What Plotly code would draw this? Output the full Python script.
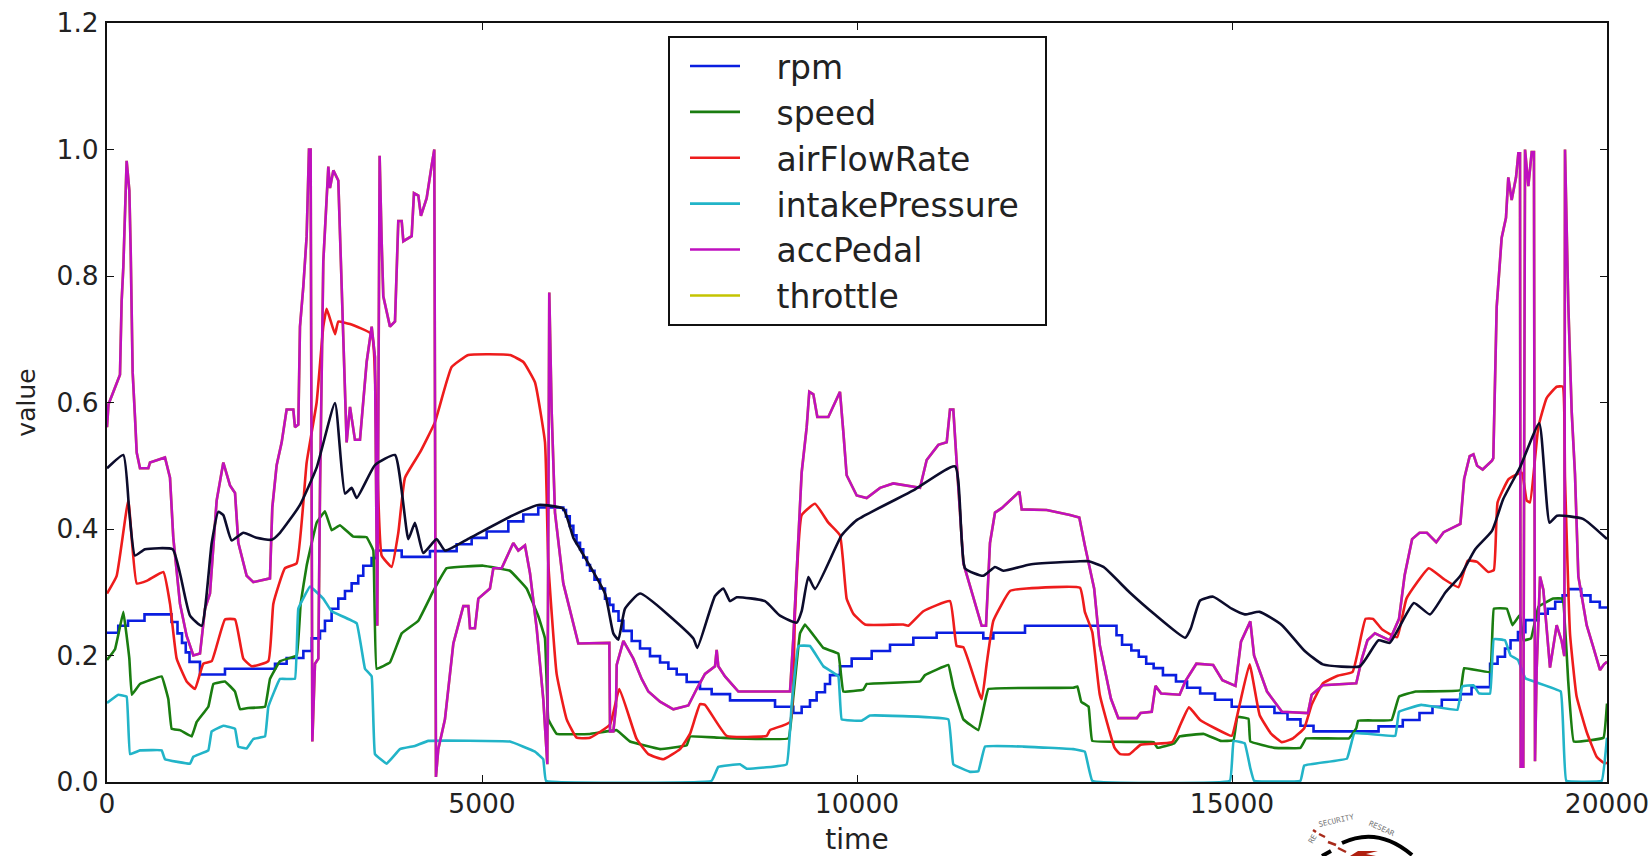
import plotly.graph_objects as go

rpm_x = [0,150,280,500,860,940,1000,1050,1100,1240,1573,2240,2395,2618,2730,2840,2906,2995,3084,3173,3262,3350,3417,3528,3595,3929,4306,4662,4862,5062,5351,5551,5750,6084,6120,6170,6218,6260,6307,6350,6400,6440,6500,6574,6640,6700,6751,6820,6885,6996,7107,7240,7374,7485,7596,7729,7907,8062,8307,8907,9151,9262,9373,9462,9573,9640,9773,9929,10196,10440,10751,11062,11684,11818,12240,13311,13460,13534,13658,13757,13856,13955,14079,14253,14401,14575,14773,14996,15566,15740,15913,16087,16954,17277,17500,17673,17797,18045,18194,18441,18541,18640,18714,18813,18912,19086,19210,19309,19408,19483,19656,19780,19904,20000]
rpm_y = [.236,.247,.255,.265,.253,.235,.22,.205,.19,.17,.179,.187,.196,.207,.227,.239,.255,.274,.29,.302,.314,.326,.342,.354,.366,.356,.365,.376,.386,.396,.412,.423,.434,.43,.42,.405,.39,.378,.368,.355,.343,.334,.32,.306,.29,.28,.27,.255,.239,.223,.211,.199,.189,.179,.17,.158,.147,.139,.129,.119,.109,.119,.129,.142,.155,.169,.183,.195,.207,.217,.228,.236,.227,.236,.247,.247,.232,.217,.208,.198,.187,.18,.169,.159,.149,.14,.13,.119,.109,.099,.089,.08,.088,.098,.109,.119,.13,.139,.15,.187,.198,.211,.224,.237,.256,.266,.274,.285,.295,.305,.295,.285,.276,.276]

speed_x = [0,107,218,298,330,440,729,818,862,973,1129,1196,1351,1418,1573,1707,1773,1884,2107,2173,2306,2529,2582,2662,2795,2906,2995,3106,3284,3462,3551,3595,3773,3929,4151,4351,4529,5018,5373,5595,5751,5840,5884,5995,6440,6796,6974,7374,7729,7773,8173,9085,9151,9240,9307,9551,9751,9818,10084,10129,10840,10907,11218,11284,11418,11618,11707,11751,12884,12939,12989,13088,13137,13955,14005,14228,14302,14625,14848,15021,15071,15220,15244,15566,15913,15988,16558,16657,16682,17128,17227,17450,18045,18095,18441,18491,18665,18739,18838,18888,18987,19086,19284,19408,19483,19557,19953,20000]
speed_y = [.193,.21,.269,.195,.138,.155,.167,.131,.084,.082,.072,.095,.119,.155,.159,.143,.115,.117,.119,.163,.191,.2,.282,.342,.41,.428,.398,.406,.388,.387,.366,.179,.189,.235,.255,.302,.338,.342,.334,.306,.262,.227,.099,.076,.076,.082,.064,.052,.058,.072,.07,.069,.135,.235,.249,.212,.203,.143,.146,.155,.159,.169,.185,.15,.099,.082,.127,.147,.149,.151,.127,.119,.065,.063,.054,.061,.072,.076,.065,.066,.103,.1,.064,.054,.054,.069,.069,.085,.097,.098,.135,.143,.145,.18,.174,.274,.274,.248,.264,.224,.227,.277,.29,.29,.159,.064,.07,.124]

airFlowRate_x = [0,129,284,396,529,751,840,929,1062,1173,1284,1396,1573,1707,1818,1929,2151,2218,2373,2529,2662,2795,2884,2929,3040,3084,3240,3529,3595,3662,3795,3884,3973,4173,4373,4595,4818,5373,5551,5706,5840,5884,5995,6129,6262,6440,6707,6831,7062,7218,7418,7640,7773,7907,7973,8262,8796,8840,9107,9173,9262,9440,9618,9773,9862,9951,10107,10618,10684,10884,11240,11329,11418,11662,11729,11818,12040,12262,12973,13038,13137,13237,13435,13509,13633,13782,14203,14302,14426,14575,14773,14996,15071,15234,15368,15517,15666,15814,15963,16062,16211,16409,16607,16781,16880,17004,17202,17326,17624,17822,18020,18144,18268,18417,18491,18541,18690,18863,18929,18973,19084,19195,19329,19409,19440,19507,19595,19729,19862,19960,20000]
airFlowRate_y = [.298,.326,.445,.314,.318,.332,.282,.195,.159,.147,.187,.191,.257,.257,.195,.183,.191,.282,.338,.346,.505,.6,.72,.748,.708,.728,.724,.708,.537,.358,.34,.394,.481,.521,.569,.656,.675,.675,.664,.632,.537,.346,.171,.099,.07,.07,.091,.147,.068,.044,.036,.052,.076,.123,.122,.073,.073,.082,.095,.266,.422,.44,.41,.39,.29,.266,.249,.249,.247,.27,.286,.215,.213,.131,.187,.255,.302,.306,.307,.269,.237,.138,.054,.044,.044,.059,.063,.088,.118,.098,.085,.073,.106,.186,.106,.077,.063,.069,.085,.122,.156,.168,.174,.258,.258,.241,.229,.29,.338,.321,.308,.35,.348,.332,.335,.442,.479,.489,.445,.442,.561,.607,.625,.625,.48,.234,.135,.079,.04,.03,.03]

intakePressure_x = [0,151,262,307,440,729,773,1107,1151,1351,1396,1551,1707,1751,1862,1951,2107,2151,2306,2506,2551,2707,2884,2995,3329,3440,3529,3573,3729,3906,4106,4284,5373,5706,5817,5853,8062,8151,8440,8529,9062,9129,9218,9373,9551,9751,9796,10062,10173,11218,11284,11507,11618,11707,12218,12884,13038,13137,14972,15021,15170,15244,15294,15913,15963,16533,16632,17177,17227,17524,18005,18070,18219,18293,18441,18491,18640,18714,18813,18912,19383,19457,19929,20000]
intakePressure_y = [.125,.138,.135,.044,.05,.05,.036,.029,.04,.05,.08,.089,.084,.056,.053,.068,.072,.119,.163,.163,.274,.309,.29,.27,.251,.179,.167,.044,.029,.052,.057,.065,.064,.048,.036,.002,.002,.024,.028,.021,.028,.123,.215,.215,.183,.167,.099,.097,.105,.099,.028,.016,.017,.056,.056,.052,.048,.002,.002,.065,.061,.022,.002,.002,.026,.037,.077,.073,.111,.122,.114,.151,.153,.14,.14,.226,.224,.2,.193,.164,.143,.002,.002,.07]

accPedal_x = [0,20,85,173,195,218,262,298,316,342,373,396,440,551,573,773,840,884,973,1062,1151,1240,1307,1373,1462,1551,1640,1707,1751,1862,1951,2173,2204,2262,2329,2395,2484,2506,2551,2573,2618,2662,2693,2715,2738,2751,2773,2818,2840,2884,2929,2951,2973,3018,3084,3115,3151,3195,3240,3306,3373,3462,3529,3573,3604,3635,3662,3684,3773,3840,3884,3929,3951,4062,4093,4151,4186,4262,4329,4364,4386,4417,4506,4618,4751,4818,4840,4906,4951,5106,5151,5262,5417,5484,5573,5640,5729,5817,5871,5897,5929,5973,6084,6284,6698,6707,6751,6787,6796,6885,7018,7129,7218,7374,7551,7751,7862,7973,8107,8129,8151,8240,8418,9107,9151,9218,9262,9329,9364,9418,9471,9618,9773,9818,9862,9996,10129,10307,10484,10840,10929,11084,11196,11240,11284,11329,11418,11662,11720,11773,11840,11929,12165,12196,12529,12840,12964,13038,13162,13237,13385,13484,13732,13782,13930,13980,14055,14302,14377,14525,14749,14872,15046,15120,15244,15294,15467,15666,16013,16062,16211,16657,16732,16806,16905,17103,17227,17302,17401,17500,17599,17723,17822,18045,18095,18169,18219,18268,18342,18466,18484,18529,18595,18653,18684,18729,18787,18818,18840,18849,18884,18907,18951,18996,19026,19040,19062,19107,19151,19240,19329,19395,19431,19440,19484,19529,19573,19618,19729,19818,19907,19960,20000]
accPedal_y = [.561,.597,.617,.644,.76,.815,.982,.935,.839,.648,.577,.521,.496,.496,.505,.513,.481,.386,.282,.231,.2,.203,.274,.298,.445,.505,.469,.457,.378,.326,.316,.322,.434,.501,.537,.589,.589,.561,.565,.72,.784,.863,1.0,1.0,.064,.119,.187,.195,.46,.823,.935,.973,.939,.967,.951,.839,.704,.537,.593,.541,.541,.664,.72,.672,.247,.99,.855,.768,.72,.728,.887,.887,.855,.863,.931,.927,.895,.923,.975,1.0,.008,.052,.099,.219,.278,.278,.243,.243,.29,.306,.338,.338,.378,.366,.374,.33,.243,.131,.028,.774,.585,.426,.314,.219,.22,.08,.08,.12,.185,.223,.195,.163,.143,.127,.115,.121,.147,.171,.183,.209,.183,.167,.143,.143,.227,.386,.489,.561,.617,.613,.577,.577,.617,.553,.485,.453,.449,.465,.472,.465,.509,.533,.537,.589,.589,.505,.346,.247,.247,.378,.426,.433,.459,.431,.43,.422,.418,.374,.306,.216,.132,.101,.101,.109,.111,.152,.14,.138,.159,.187,.185,.161,.152,.222,.254,.2,.143,.111,.109,.138,.153,.156,.195,.224,.235,.224,.258,.327,.384,.394,.394,.379,.395,.408,.479,.515,.518,.5,.494,.508,.512,.751,.86,.892,.956,.92,.956,.994,.994,.024,.024,1.0,.942,.996,.996,.033,.177,.325,.304,.181,.248,.223,.199,1.0,.755,.586,.487,.325,.248,.213,.177,.186,.19]

throttle_x = accPedal_x
throttle_y = accPedal_y

unlabeled_x = [0,218,298,373,507,875,973,1107,1262,1396,1484,1551,1662,1818,1995,2195,2306,2573,2795,3040,3173,3262,3329,3573,3840,4018,4106,4217,4395,4506,4840,5417,5751,6084,6218,6307,6640,6751,6818,6907,7107,7818,7871,8107,8218,8307,8396,8773,8973,9196,9262,9351,9440,9796,9996,10751,11307,11440,11684,11840,11951,12307,12973,13088,13286,13633,13980,14377,14451,14575,14749,14996,15170,15368,15666,15963,16211,16706,16954,17103,17425,17639,17847,18045,18243,18466,18615,18838,19096,19234,19333,19680,20000]
unlabeled_y = [.496,.517,.426,.358,.368,.368,.33,.263,.247,.378,.427,.422,.382,.394,.386,.383,.394,.438,.497,.599,.456,.465,.449,.501,.517,.384,.41,.362,.384,.366,.386,.422,.438,.432,.386,.368,.298,.235,.225,.274,.298,.227,.212,.294,.306,.286,.292,.286,.263,.252,.27,.324,.305,.39,.414,.461,.499,.338,.326,.34,.334,.344,.349,.349,.34,.3,.264,.228,.243,.287,.293,.274,.265,.269,.248,.208,.186,.183,.224,.22,.283,.265,.3,.326,.368,.397,.447,.497,.567,.41,.421,.416,.384]

x_ticks = [0,5000,10000,15000,20000]
y_ticks = [0.0,0.2,0.4,0.6,0.8,1.0,1.2]

LW = 2.6
PAD = "\u00a0\u00a0\u00a0"   # space between legend sample and its text
TAIL = "\u00a0\u00a0"        # room on the right of the longest legend text

def sm(color, s):
    return dict(color=color, width=LW, shape="spline", smoothing=s)

fig = go.Figure()
fig.add_trace(go.Scatter(x=throttle_x, y=throttle_y, name=PAD + "throttle", mode="lines", legendrank=6,
                         line=dict(color="#c4c400", width=LW)))
fig.add_trace(go.Scatter(x=rpm_x, y=rpm_y, name=PAD + "rpm", mode="lines", legendrank=1,
                         line=dict(color="#0a1ee0", width=LW, shape="hv")))
fig.add_trace(go.Scatter(x=speed_x, y=speed_y, name=PAD + "speed", mode="lines", legendrank=2,
                         line=sm("#1a7d10", 0.2)))
fig.add_trace(go.Scatter(x=airFlowRate_x, y=airFlowRate_y, name=PAD + "airFlowRate", mode="lines", legendrank=3,
                         line=sm("#ee1c1c", 0.35)))
fig.add_trace(go.Scatter(x=intakePressure_x, y=intakePressure_y, name=PAD + "intakePressure" + TAIL, mode="lines", legendrank=4,
                         line=sm("#22b4c8", 0.2)))
fig.add_trace(go.Scatter(x=accPedal_x, y=accPedal_y, name=PAD + "accPedal", mode="lines", legendrank=5,
                         line=dict(color="#bf10bf", width=LW)))
fig.add_trace(go.Scatter(x=unlabeled_x, y=unlabeled_y, mode="lines", showlegend=False,
                         line=sm("#0c0c2c", 0.45)))

# corner logo, placed in page pixels relative to the plot frame
def px(x): return (x - 107) / 1500
def py(y): return (782 - y) / 759
def path(*pts):
    out = []
    for p in pts:
        if isinstance(p, str):
            out.append(p)
        else:
            out.append(f"{px(p[0]):.5f} {py(p[1]):.5f}")
    return " ".join(out)

shapes = [
    dict(type="path", xref="paper", yref="paper", line=dict(color="black", width=4),
         path=path("M", (1342, 843), "Q", (1378, 826), (1412, 855))),
    dict(type="path", xref="paper", yref="paper", line=dict(color="black", width=4),
         path=path("M", (1322, 856), "L", (1331, 851))),
    dict(type="path", xref="paper", yref="paper", fillcolor="#b02010", line=dict(color="#b02010", width=0),
         path=path("M", (1350, 856), "L", (1358, 851), "L", (1378, 851), "L", (1366, 854), "L", (1376, 856), "Z")),
]
for a, b in [((1313, 830), (1316, 832)), ((1319, 834), (1325, 837)), ((1328, 842), (1336, 845)), ((1338, 848), (1346, 852))]:
    shapes.append(dict(type="line", xref="paper", yref="paper", x0=px(a[0]), y0=py(a[1]), x1=px(b[0]), y1=py(b[1]),
                       line=dict(color="#a82a1a", width=2.5)))

logo_text = [("SECURITY", 1358, 831, -13), ("RESEAR", 1399, 841, 24), ("RE", 1322, 848, -60)]
annotations = [dict(text=t, x=px(x), y=py(y), xref="paper", yref="paper", showarrow=False, textangle=a,
                    font=dict(family="DejaVu Sans Mono", size=7.5, color="#777")) for t, x, y, a in logo_text]

axis = dict(showgrid=False, zeroline=False, showline=True, linecolor="#111", linewidth=2,
            mirror="allticks", ticks="inside", ticklen=7, tickcolor="#111", tickwidth=1,
            tickfont=dict(family="DejaVu Sans", size=26.5, color="#222"))
fig.update_layout(
    width=1651, height=856, autosize=False,
    margin=dict(l=107, r=44, t=23, b=74, autoexpand=False),
    paper_bgcolor="white", plot_bgcolor="white",
    font=dict(family="DejaVu Sans", color="#222"),
    xaxis=dict(axis, range=[0, 20000], tickmode="array", tickvals=x_ticks, ticktext=[str(v) for v in x_ticks],
               ticklabelstandoff=-3,
               title=dict(text="time", font=dict(size=28, family="DejaVu Sans"), standoff=15)),
    yaxis=dict(axis, range=[0, 1.2], tickmode="array", tickvals=y_ticks, ticktext=[f"{v:.1f}" for v in y_ticks],
               ticklabelstandoff=1,
               title=dict(text="value", font=dict(size=25, family="DejaVu Sans"), standoff=14)),
    legend=dict(x=(668-107)/1500, y=1-(36-23)/759, xanchor="left", yanchor="top",
                bgcolor="white", bordercolor="#111", borderwidth=2,
                font=dict(family="DejaVu Sans", size=33, color="#222"),
                itemwidth=50, indentation=15, traceorder="normal"),
    shapes=shapes, annotations=annotations,
)
fig.write_html("out.html", config={"displayModeBar": False},
               post_script="document.body.style.margin='0';")
